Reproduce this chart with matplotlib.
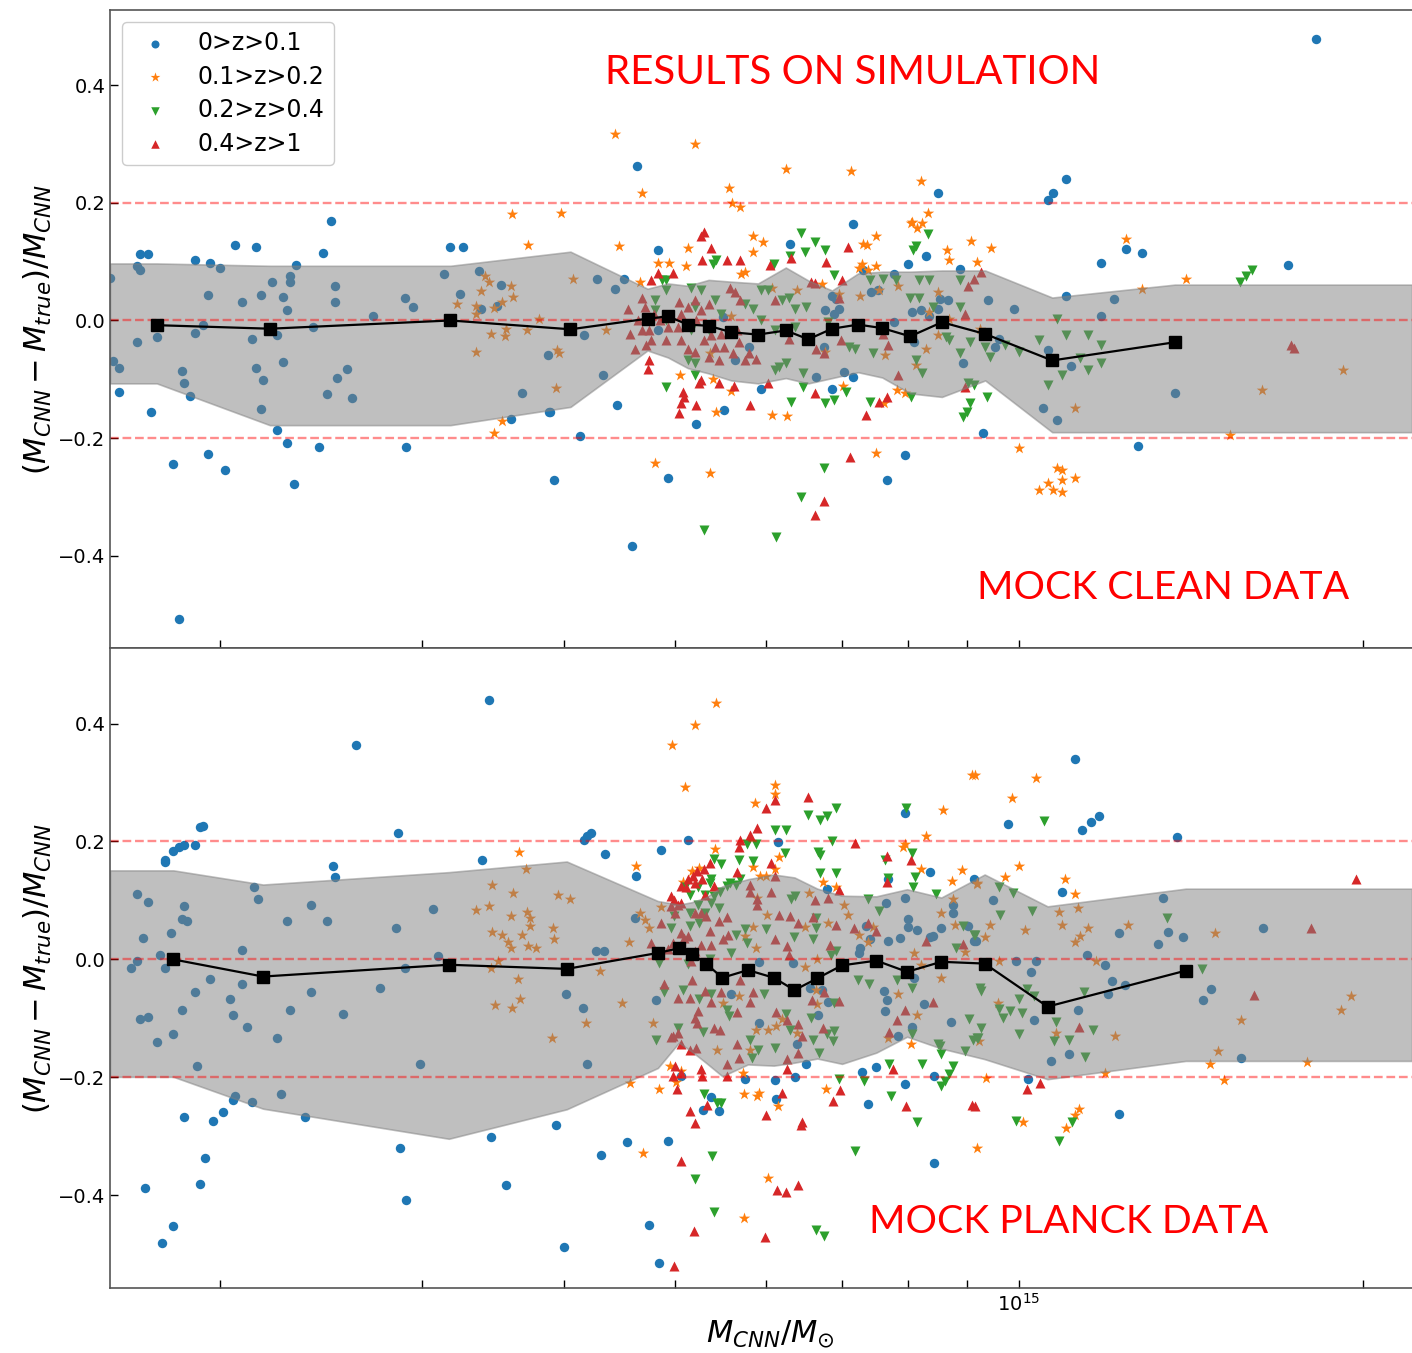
import numpy as np
import matplotlib
matplotlib.use('Agg')
import matplotlib.pyplot as plt
from matplotlib.ticker import NullFormatter

# masses in units of 1e14 Msun, y = (M_CNN - M_true)/M_CNN
top_blue = [(1.70,0.113),(1.73,0.113),(1.69,0.092),(1.70,0.085),(1.90,0.102),(1.96,0.097),(2.00,0.089),(2.33,0.095),(2.46,0.114),(1.60,0.073),(1.95,0.044),(2.17,0.044),(2.09,0.031),(2.22,0.066),(2.30,0.075),(2.30,0.065),(2.27,0.040),(2.29,0.018),(2.52,0.058),(2.52,0.031),(2.90,0.038),(2.95,0.023),(2.72,0.007),(3.14,0.079),(3.24,0.045),(3.37,0.084),(3.38,0.020),(3.49,0.025),(3.52,0.060),(1.93,-0.007),(1.90,-0.021),(1.76,-0.028),(1.69,-0.037),(2.41,-0.011),(2.24,-0.024),(2.13,-0.031),(1.61,-0.069),(1.63,-0.080),(2.27,-0.071),(1.85,-0.086),(1.86,-0.106),(2.15,-0.081),(2.18,-0.101),(2.58,-0.082),(2.53,-0.098),(2.48,-0.125),(2.61,-0.132),(2.17,-0.150),(1.88,-0.129),(3.87,-0.058),(3.67,-0.124),(3.59,-0.167),(3.88,-0.156),
            (1.63,-0.121),(1.74,-0.156),(2.24,-0.186),(2.29,-0.208),(2.44,-0.216),(2.91,-0.215),(1.82,-0.244),(1.95,-0.227),(2.02,-0.254),(1.84,-0.508),(2.32,-0.278),(3.92,-0.271),(4.13,-0.197),(4.58,-0.383),
            (2.06,0.129),(2.15,0.125),(2.50,0.169),(3.18,0.125),(3.26,0.125),(4.83,0.120),(6.30,0.130),(7.15,0.164),(7.99,0.096),(8.29,0.110),(4.45,-0.143),(5.52,-0.153),(5.95,-0.116),(6.86,-0.116),(3.89,-0.155),
            (4.27,0.071),(4.43,0.054),(4.51,0.071),(4.16,-0.024),(4.32,-0.092),(4.83,-0.017),(5.51,0.006),(5.80,-0.045),(5.64,-0.068),(6.64,-0.096),(6.76,0.017),(6.89,0.011),(6.96,0.020),(6.91,0.037),(6.86,0.042),(6.75,-0.045),(7.15,-0.096),(7.03,-0.088),(7.30,0.085),(7.42,0.048),(7.52,0.051),(7.77,0.079),(8.06,0.014),(8.20,0.017),(8.09,-0.037),(7.77,-0.003),(8.52,0.037),(8.66,0.034),(8.49,0.020),(8.34,0.008),(8.93,-0.073),(9.53,-0.045),(9.61,-0.031),(8.87,0.088),
            (18.2,0.478),(10.6,0.205),(10.7,0.217),(11.0,0.241),(12.4,0.122),(12.8,0.114),(11.8,0.098),(17.2,0.095),(13.7,-0.124),(12.7,-0.214),(9.9,0.020),(11.0,0.041),(12.1,0.037),(11.8,0.007),(10.6,-0.051),(11.1,-0.078),(10.5,-0.149),(10.8,-0.169),(9.4,0.034),
            (4.63,0.263),(8.5,0.217),(7.95,-0.229),(7.66,-0.271),(9.3,-0.192),(4.93,-0.268),(5.22,-0.176)]
top_orange = [(3.41,0.076),(3.44,0.066),(3.38,0.050),(3.35,0.024),(3.35,0.011),(3.22,0.028),(3.47,0.022),(3.53,0.032),(3.59,0.058),(3.61,0.040),(3.56,-0.014),(3.55,-0.026),(3.45,-0.023),(3.35,-0.054),(3.71,-0.017),(3.80,0.003),(3.53,-0.171),(3.47,-0.191),(3.6,0.181),(3.72,0.129),(3.97,0.183),
              (4.47,0.127),(4.83,0.098),(4.94,0.098),(5.13,0.124),(5.11,0.092),(5.85,0.143),(5.97,0.134),(5.85,0.116),(5.71,0.079),(5.76,0.083),(7.50,0.144),(7.30,0.130),(7.36,0.129),(8.06,0.167),(8.14,0.157),(8.22,0.165),(8.64,0.119),(8.68,0.102),(9.07,0.136),(9.19,0.100),(9.45,0.123),(7.29,0.096),(7.37,0.085),(7.24,0.090),(7.49,0.092),(5.05,-0.093),(5.40,-0.099),(5.43,-0.155),(6.26,-0.163),(5.60,-0.120),(7.02,-0.111),(7.61,-0.141),(7.82,-0.119),(7.94,-0.124),(3.93,-0.114),(4.66,0.065),
              (4.07,0.071),(4.35,-0.017),(3.94,-0.051),(3.96,-0.056),(5.37,-0.056),(5.60,0.008),(6.08,0.056),(6.39,0.051),(6.72,0.062),(6.96,0.045),(7.26,0.042),(7.54,0.051),(7.84,0.059),(8.34,0.014),(8.49,-0.025),(8.68,0.003),(9.24,-0.014),(8.29,-0.048),(7.64,-0.059),(6.76,-0.054),(8.12,-0.076),(8.49,0.048),
              (12.4,0.139),(14.0,0.071),(12.8,0.054),(16.3,-0.119),(15.3,-0.195),(19.2,-0.085),(10.9,-0.254),(10.8,-0.251),(10.6,-0.276),(10.9,-0.271),(10.4,-0.288),(10.7,-0.288),(11.2,-0.268),(10.9,-0.292),(10.0,-0.217),(11.2,-0.149),
              (4.43,0.317),(5.20,0.300),(4.68,0.217),(5.57,0.225),(5.61,0.200),(5.70,0.193),(6.25,0.258),(7.12,0.254),(8.2,0.237),(8.33,0.183),(8.04,0.166),(4.80,-0.242),(5.36,-0.259),(7.49,-0.225),(6.08,-0.161)]
top_green = [(6.44,0.148),(6.63,0.134),(6.50,0.117),(6.77,0.120),(6.89,0.078),(6.30,0.110),(8.33,0.147),(8.07,0.119),(8.13,0.127),(6.10,0.096),(5.40,0.096),(5.43,0.103),(4.91,0.068),(4.87,0.069),(4.91,-0.113),(5.20,-0.093),(6.47,-0.113),(6.76,-0.140),(6.89,-0.136),(7.05,-0.122),(6.31,-0.138),(7.41,-0.138),(9.06,-0.141),(9.0,-0.155),(8.93,-0.164),(8.04,-0.130),
             (4.91,0.051),(4.80,0.034),(4.80,0.017),(4.91,0.0),(5.16,0.056),(5.27,0.051),(5.20,0.023),(5.42,0.034),(5.49,0.011),(5.35,-0.017),(5.16,-0.017),(5.20,-0.073),(5.13,-0.068),(5.76,0.028),(5.85,0.020),(5.95,0.051),(6.03,0.051),(6.20,0.034),(6.29,0.039),(6.37,0.020),(6.51,0.023),(5.95,0.0),(6.11,-0.017),(6.37,-0.011),(6.16,-0.079),(6.25,-0.073),(6.47,-0.090),(6.11,-0.085),(7.10,-0.045),(7.19,-0.048),(7.41,0.068),(7.60,0.071),(7.80,0.068),(8.17,0.068),(8.34,0.068),(8.87,0.068),(8.03,0.039),(8.17,0.039),(8.40,0.023),(8.87,0.023),(8.63,-0.028),(8.68,-0.034),(8.87,-0.056),(9.05,-0.037),(9.34,-0.045),(9.43,-0.062),(8.12,-0.068),(8.23,-0.090),(9.02,-0.107),(9.14,-0.110),(9.37,-0.130),(7.45,-0.056),(6.81,-0.003),
             (9.72,-0.042),(10.0,-0.054),(10.4,-0.034),(10.8,0.003),(11.0,-0.025),(11.5,-0.025),(11.8,-0.042),(11.8,-0.073),(11.3,-0.064),(11.5,-0.085),(10.9,-0.093),(10.6,-0.110),
             (15.6,0.066),(15.8,0.075),(16.0,0.085),(5.30,-0.356),(6.13,-0.368),(6.45,-0.300),(6.75,-0.251)]
top_red = [(5.30,0.150),(5.27,0.144),(5.38,0.124),(5.28,0.103),(5.55,0.102),(5.70,0.103),(6.06,0.094),(6.32,0.106),(6.78,0.099),(7.09,0.125),(6.58,0.066),(6.63,0.063),(7.0,0.069),(4.83,0.080),(4.76,0.069),(4.98,0.080),(4.74,-0.068),(4.73,-0.082),(5.08,-0.121),(5.09,-0.130),(5.06,-0.141),(5.22,-0.144),(5.04,-0.158),(5.25,-0.107),(5.27,-0.102),(5.46,-0.107),(5.63,-0.111),(5.81,-0.143),(6.03,-0.106),(6.63,-0.124),(7.34,-0.160),(7.54,-0.138),(7.66,-0.130),(8.96,-0.113),
           (4.55,0.020),(4.68,0.039),(4.71,0.023),(4.74,0.0),(4.74,-0.017),(4.76,-0.034),(4.72,-0.042),(4.93,-0.011),(4.91,-0.034),(5.04,0.031),(5.06,0.011),(5.13,0.023),(5.20,0.034),(5.27,0.017),(5.35,0.028),(5.06,-0.034),(5.13,-0.048),(5.30,-0.034),(5.38,-0.025),(5.42,-0.045),(5.35,-0.062),(5.52,-0.045),(5.62,-0.056),(5.69,-0.037),(5.80,-0.056),(5.88,-0.065),(5.67,-0.017),(5.49,-0.023),(5.58,0.056),(5.64,0.048),(5.70,0.034),(6.11,0.034),(6.29,-0.031),(6.64,-0.048),(6.75,-0.056),(6.96,0.039),(6.98,-0.034),(7.60,-0.023),(7.68,-0.042),(7.84,-0.093),(9.02,0.059),(9.14,0.071),(9.26,0.082),(8.96,0.011),
           (4.64,0.0),(4.68,-0.017),(4.85,0.0),(4.79,0.011),(4.57,-0.023),(4.61,-0.048),(5.03,-0.011),(5.22,0.0),(5.20,-0.054),(5.46,-0.068),(5.76,-0.068),
           (17.3,-0.042),(17.4,-0.047),(6.63,-0.331),(6.75,-0.307),(7.11,-0.232)]

bot_blue = [(3.44,0.439),(2.63,0.363),(1.93,0.226),(1.92,0.224),(2.86,0.215),(1.79,0.165),(1.79,0.168),(1.82,0.184),(1.84,0.191),(1.86,0.194),(1.90,0.194),(2.51,0.159),(2.52,0.140),(3.39,0.169),
            (1.69,0.111),(1.73,0.098),(1.86,0.090),(1.85,0.068),(1.87,0.065),(1.71,0.036),(1.81,0.045),(1.77,0.008),(1.69,-0.003),(1.67,-0.015),(1.79,-0.015),(2.14,0.123),(2.16,0.103),(2.09,0.016),(2.29,0.066),(2.40,0.092),(2.48,0.066),(2.85,0.053),(3.07,0.086),(3.10,0.005),(2.90,-0.014),
            (1.96,-0.033),(1.90,-0.056),(2.09,-0.041),(2.04,-0.067),(2.05,-0.094),(1.85,-0.086),(1.70,-0.101),(1.73,-0.098),(1.82,-0.127),(1.76,-0.140),(1.91,-0.181),(2.11,-0.114),(2.24,-0.133),(2.30,-0.085),(2.40,-0.056),(2.56,-0.093),(2.76,-0.049),(2.99,-0.177),(2.06,-0.231),(2.13,-0.242),(2.26,-0.228),
            (2.05,-0.239),(2.01,-0.259),(1.86,-0.267),(1.97,-0.274),(2.37,-0.267),(1.94,-0.337),(1.92,-0.380),(1.72,-0.387),(1.82,-0.452),(1.78,-0.480),(2.87,-0.320),(2.91,-0.408),(3.45,-0.301),(3.56,-0.382),
            (4.16,0.203),(4.19,0.210),(4.22,0.215),(4.34,0.178),(4.62,0.141),(4.86,0.186),(5.13,0.203),(6.15,0.199),(7.95,0.249),(8.35,0.149),(6.79,0.120),(7.68,0.136),
            (4.26,0.014),(4.33,0.015),(4.61,0.071),(7.65,0.096),(7.94,0.105),(7.99,0.068),(8.00,0.055),(8.14,0.050),(7.68,0.031),(7.86,0.036),(8.35,0.038),(8.41,0.040),(8.54,0.054),(8.75,0.093),(8.75,0.079),(9.02,0.056),(9.13,0.031),(9.14,0.136),(7.35,0.056),(7.41,0.035),(7.26,0.019),(7.25,0.011),(6.34,-0.006),(5.92,-0.005),
            (3.93,-0.280),(4.31,-0.331),(4.54,-0.309),(4.93,-0.307),(4.74,-0.451),(4.00,-0.488),(4.84,-0.515),(5.06,-0.197),(5.38,-0.234),(5.29,-0.256),(5.46,-0.257),(5.76,-0.203),(6.12,-0.205),(6.13,-0.237),(6.37,-0.199),(6.51,-0.177),(7.28,-0.190),(7.50,-0.182),(7.38,-0.245),(7.95,-0.212),(8.43,-0.197),(8.43,-0.345),
            (4.01,-0.059),(4.15,-0.082),(4.19,-0.178),(4.81,-0.068),(5.60,-0.059),(5.92,-0.108),(6.39,-0.143),(6.56,-0.048),(6.67,-0.095),(6.72,-0.051),(6.81,-0.072),(7.61,-0.054),(7.66,-0.068),(7.64,-0.088),(8.06,-0.115),(7.84,-0.129),(8.25,-0.076),(8.72,-0.106),(8.09,-0.031),
            (11.19,0.340),(9.78,0.229),(11.36,0.219),(11.56,0.233),(11.74,0.244),(13.75,0.207),(10.91,0.114),
            (9.49,0.101),(13.37,0.105),(13.49,0.047),(13.92,0.038),(13.22,0.026),(12.24,0.045),(16.34,0.054),(11.46,0.007),(10.34,-0.003),(9.93,-0.003),(11.9,-0.009),(9.17,0.031),
            (10.24,-0.021),(12.07,-0.036),(12.39,-0.044),(11.95,-0.058),(11.27,-0.086),(10.31,-0.103),(10.66,-0.172),(11.05,-0.161),(14.48,-0.068),(14.72,-0.050),(15.64,-0.167),(10.18,-0.202),(12.23,-0.262)]
bot_orange = [(3.65,0.183),(3.70,0.154),(3.46,0.127),(3.61,0.112),(3.44,0.090),(3.35,0.083),(3.59,0.074),(3.71,0.081),(3.73,0.070),(3.73,0.056),(3.46,0.047),(3.53,0.041),(3.67,0.041),(3.57,0.029),(3.59,0.019),(3.72,0.023),(3.78,0.020),(3.50,-0.002),(3.45,-0.014),(3.64,-0.033),(3.66,-0.067),(3.48,-0.078),(3.60,-0.082),
              (5.43,0.434),(5.21,0.398),(4.97,0.364),(5.10,0.293),(5.87,0.266),(6.12,0.295),(6.12,0.281),(5.42,0.188),(4.62,0.158),(5.17,0.150),(5.25,0.155),(5.08,0.132),(5.85,0.156),(6.11,0.154),(6.17,0.174),(5.93,0.142),(6.01,0.142),(9.10,0.313),(8.58,0.254),(8.29,0.209),(7.92,0.191),(7.94,0.196),(8.20,0.154),(8.91,0.151),(8.74,0.133),(6.74,0.132),(6.91,0.122),
              (3.95,0.109),(4.05,0.103),(3.91,0.054),(3.92,0.034),(4.56,0.030),(4.66,0.079),(4.71,0.067),(4.74,0.054),(4.86,0.089),(5.90,0.105),(6.02,0.075),(5.85,0.055),(5.76,0.040),(5.88,0.020),(6.55,0.113),(6.50,0.055),(6.81,0.061),(7.03,0.093),(7.09,0.075),(7.25,0.042),(7.38,0.029),(7.45,0.055),(8.09,0.011),(8.55,0.079),(8.78,0.058),(8.76,0.102),(8.96,0.012),(9.18,0.130),(6.66,0.0),
              (4.57,-0.209),(4.84,-0.219),(5.01,-0.208),(4.95,-0.180),(5.06,-0.189),(5.74,-0.228),(5.73,-0.192),(5.90,-0.232),(5.92,-0.227),(6.15,-0.249),(4.69,-0.328),(6.03,-0.371),(5.75,-0.438),(6.78,-0.219),(8.04,-0.144),(9.18,-0.320),
              (3.90,-0.133),(4.18,-0.107),(4.30,-0.020),(4.49,-0.073),(4.78,-0.108),(5.51,-0.073),(5.69,-0.062),(5.88,-0.119),(6.03,-0.120),(6.13,-0.113),(6.20,-0.101),(6.39,-0.125),(6.64,-0.051),(6.66,-0.076),(5.82,-0.154),(5.44,-0.154),(6.50,-0.012),(7.84,-0.058),(8.14,-0.094),(7.68,-0.133),(8.54,-0.031),(8.20,-0.010),
              (9.15,0.313),(10.34,0.307),(9.86,0.273),(10.0,0.159),(9.72,0.140),(10.97,0.137),(11.19,0.111),
              (9.19,0.128),(9.43,0.059),(9.34,0.038),(10.12,0.050),(10.84,0.081),(11.25,0.088),(10.91,0.059),(11.48,0.054),(11.31,0.040),(11.20,0.030),(12.45,0.058),(14.85,0.044),(9.60,-0.003),(11.68,-0.003),
              (9.58,-0.073),(9.23,-0.138),(10.78,-0.125),(12.13,-0.129),(14.94,-0.156),(15.64,-0.103),(19.13,-0.085),(19.5,-0.062),
              (9.36,-0.201),(11.90,-0.193),(14.69,-0.177),(15.10,-0.205),(17.86,-0.174),(10.07,-0.276),(11.0,-0.285),(11.19,-0.263),(11.28,-0.254)]
bot_green = [(6.54,0.245),(6.70,0.236),(6.79,0.244),(6.92,0.256),(6.11,0.219),(6.25,0.219),(7.97,0.257),(6.86,0.200),(5.78,0.195),(5.88,0.195),(6.24,0.181),(5.41,0.171),(5.48,0.162),(5.69,0.168),(5.85,0.167),(6.67,0.182),(6.69,0.177),(6.69,0.147),(6.92,0.147),(8.06,0.181),(7.64,0.168),(8.10,0.140),(7.68,0.138),(8.08,0.123),(8.46,0.111),(5.59,0.130),(5.55,0.125),(5.65,0.127),(5.70,0.136),(5.38,0.136),(5.36,0.130),(5.24,0.122),(5.47,0.115),(5.41,0.107),(5.31,0.110),(5.10,0.123),(5.15,0.110),
             (5.24,0.093),(5.31,0.079),(5.38,0.096),(5.46,0.088),(5.15,0.079),(5.15,0.056),(5.25,0.061),(4.96,0.053),(4.99,0.073),(5.76,0.052),(5.65,0.042),(6.01,0.052),(6.35,0.038),(6.60,0.034),(6.64,0.054),(6.64,0.071),(6.37,0.107),(6.32,0.102),(7.54,0.082),(7.38,0.102),(8.93,0.056),(9.13,0.041),(8.81,0.019),(6.92,0.014),(6.85,0.008),(5.78,0.028),(5.60,0.011),(4.84,-0.006),(5.13,-0.008),(5.37,0.0),
             (5.30,-0.228),(5.44,-0.243),(5.48,-0.243),(5.39,-0.334),(5.21,-0.373),(5.41,-0.429),(6.64,-0.459),(6.75,-0.468),(7.19,-0.325),(6.96,-0.203),(7.32,-0.206),(7.70,-0.178),(7.73,-0.232),(8.14,-0.276),(8.23,-0.178),(8.55,-0.215),(8.61,-0.206),(8.68,-0.195),(8.75,-0.180),(8.55,-0.160),(8.50,-0.144),
             (4.81,-0.137),(5.03,-0.116),(4.89,-0.056),(5.08,-0.052),(5.25,-0.067),(5.38,-0.059),(5.29,-0.123),(5.55,-0.085),(5.57,-0.096),(5.81,-0.137),(5.91,-0.153),(5.84,-0.167),(5.98,-0.058),(6.12,-0.150),(6.25,-0.093),(6.30,-0.119),(6.60,-0.137),(6.68,-0.158),(6.79,-0.127),(6.89,-0.122),(6.87,-0.138),(6.89,-0.073),(6.57,-0.099),(7.23,-0.034),(7.39,-0.042),(7.82,-0.035),(8.06,-0.048),(8.06,-0.127),(8.52,-0.146),(9.04,-0.101),(8.97,-0.155),(9.11,-0.136),(9.21,-0.133),(9.24,-0.048),
             (10.52,0.235),(9.61,0.123),(9.87,0.112),(9.62,0.076),(10.26,0.082),(13.47,0.070),(9.15,0.042),
             (9.26,-0.054),(9.61,-0.084),(9.69,-0.099),(9.82,-0.088),(10.05,-0.090),(10.0,-0.067),(10.17,-0.050),(10.31,-0.062),(9.26,-0.117),(9.18,-0.134),(9.99,-0.127),(10.77,-0.106),(10.72,-0.138),(11.05,-0.136),(11.60,-0.119),(11.42,-0.165),(11.39,-0.056),(14.47,-0.016),
             (9.94,-0.274),(11.12,-0.275),(10.84,-0.308)]
bot_red = [(6.53,0.276),(6.12,0.270),(6.01,0.256),(5.90,0.223),(5.81,0.211),(5.70,0.203),(5.69,0.190),(6.07,0.164),(5.67,0.149),(7.18,0.198),(7.66,0.175),(8.05,0.169),(7.67,0.132),(6.95,0.117),(5.36,0.164),(5.30,0.153),(5.23,0.150),(5.18,0.141),(5.13,0.137),(5.20,0.130),(5.06,0.124),(4.96,0.108),(5.11,0.123),(5.28,0.136),(4.99,0.101),(5.31,0.110),(5.41,0.124),
           (5.81,0.127),(5.81,0.114),(5.90,0.102),(5.90,0.093),(6.11,0.141),(6.07,0.115),(6.17,0.076),(6.30,0.073),(6.41,0.062),(5.55,0.072),(5.46,0.065),(5.37,0.049),(5.56,0.041),(5.51,0.034),(5.38,0.025),(5.27,0.024),(5.20,0.014),(5.06,0.045),(5.09,0.036),(5.13,0.040),(4.98,0.028),(4.86,0.062),(4.76,0.028),(5.00,0.079),(4.96,0.090),(5.03,0.093),(5.06,0.096),(5.21,0.079),(5.32,0.073),(5.27,0.079),(6.11,0.034),(6.26,0.023),(6.29,0.008),(6.60,0.072),(6.63,0.101),(6.80,0.105),(6.92,0.059),(6.83,0.025),(7.17,0.054),(7.38,0.062),(7.49,0.048),(8.29,0.032),(8.94,0.026),(4.93,0.017),(5.16,-0.003),
           (5.00,-0.180),(4.98,-0.198),(5.02,-0.219),(5.06,-0.192),(5.27,-0.185),(5.28,-0.197),(5.06,-0.144),(5.15,-0.154),(5.15,-0.257),(5.20,-0.278),(5.33,-0.247),(5.06,-0.341),(5.55,-0.198),(6.26,-0.186),(6.20,-0.226),(6.00,-0.264),(6.46,-0.275),(6.45,-0.280),(6.14,-0.391),(6.25,-0.395),(6.41,-0.382),(5.19,-0.460),(5.99,-0.471),(4.99,-0.519),(6.97,-0.222),(6.87,-0.240),(7.75,-0.185),(7.97,-0.249),(9.10,-0.246),
           (4.89,-0.041),(5.03,-0.065),(5.15,-0.065),(5.17,-0.034),(5.31,-0.054),(5.38,-0.072),(5.49,-0.055),(5.67,-0.089),(5.85,-0.055),(5.82,-0.072),(5.70,-0.035),(5.24,-0.088),(5.20,-0.099),(5.23,-0.107),(5.41,-0.116),(5.47,-0.120),(5.03,-0.124),(4.96,-0.131),(5.22,-0.150),(5.67,-0.144),(5.69,-0.167),(5.55,-0.178),(6.13,-0.089),(6.27,-0.103),(6.41,-0.109),(6.46,-0.130),(6.27,-0.168),(6.41,-0.158),(6.59,-0.069),(6.75,-0.056),(6.74,-0.117),(6.95,-0.071),(7.94,-0.086),(7.82,-0.102),(8.40,-0.072),(7.70,-0.123),(4.98,-0.130),
           (19.7,0.136),(17.99,0.054),(11.29,-0.114),(16.05,-0.061),(10.16,-0.220),(10.44,-0.209),(9.15,-0.249)]

# binned medians and spread band
top_med_x = [1.76,2.21,3.18,4.05,4.73,4.93,5.13,5.35,5.60,5.91,6.25,6.54,6.86,7.23,7.59,8.03,8.56,9.34,10.69,13.69]
top_med_y = [-0.008,-0.014,0.0,-0.015,0.003,0.007,-0.007,-0.009,-0.020,-0.024,-0.017,-0.032,-0.014,-0.007,-0.013,-0.027,-0.003,-0.023,-0.068,-0.037]
top_hi = [0.097,0.093,0.093,0.117,0.054,0.063,0.059,0.069,0.066,0.063,0.090,0.068,0.051,0.080,0.083,0.083,0.085,0.085,0.039,0.061]
top_lo = [-0.107,-0.178,-0.178,-0.147,-0.051,-0.063,-0.081,-0.090,-0.102,-0.107,-0.098,-0.107,-0.098,-0.088,-0.097,-0.124,-0.130,-0.102,-0.190,-0.190]

bot_med_x = [1.82,2.18,3.17,4.02,4.83,5.04,5.17,5.32,5.50,5.79,6.10,6.36,6.66,7.00,7.50,7.98,8.55,9.33,10.59,13.99]
bot_med_y = [0.0,-0.029,-0.009,-0.016,0.011,0.019,0.010,-0.007,-0.031,-0.018,-0.031,-0.052,-0.032,-0.010,-0.002,-0.021,-0.004,-0.007,-0.080,-0.019]
bot_hi = [0.151,0.127,0.148,0.166,0.099,0.093,0.097,0.105,0.124,0.136,0.144,0.139,0.120,0.108,0.107,0.119,0.105,0.144,0.090,0.120]
bot_lo = [-0.199,-0.253,-0.304,-0.254,-0.184,-0.141,-0.156,-0.175,-0.198,-0.178,-0.180,-0.175,-0.168,-0.177,-0.158,-0.131,-0.151,-0.169,-0.203,-0.172]

labels = ['0>z>0.1', '0.1>z>0.2', '0.2>z>0.4', '0.4>z>1']
colors = ['tab:blue', 'tab:orange', 'tab:green', 'tab:red']
markers = ['o', '*', 'v', '^']
sizes = [46, 75, 52, 52]

XMIN, XMAX = 1.6015e14, 2.207e15
YMIN, YMAX = -0.557, 0.528

fig = plt.figure(figsize=(14.12, 13.53), dpi=100)
W, H = 1412., 1353.
ax1 = fig.add_axes([110/W, 1-648/H, 1-110/W, 638/H])
ax2 = fig.add_axes([110/W, 1-1288/H, 1-110/W, 640/H], sharex=ax1, sharey=ax1)


def panel(ax, groups, mx, my, hi, lo):
    for pts, c, m, sz, lab in zip(groups, colors, markers, sizes, labels):
        pts = np.array(pts)
        ax.scatter(pts[:, 0]*1e14, pts[:, 1], c=c, marker=m, s=sz, linewidths=0, label=lab)
    bx = np.array([XMIN/1e14] + mx + [XMAX/1e14])*1e14
    bh = [hi[0]] + hi + [hi[-1]]
    bl = [lo[0]] + lo + [lo[-1]]
    ax.fill_between(bx, bl, bh, facecolor='gray', edgecolor='gray', alpha=0.5, lw=1.2)
    for yy in (-0.2, 0.0, 0.2):
        ax.axhline(yy, color='red', alpha=0.45, ls='--', lw=1.7)
    ax.plot(np.array(mx)*1e14, my, color='black', marker='s', ms=8, lw=1.6)
    ax.set_xscale('log')
    ax.set_xlim(XMIN, XMAX)
    ax.set_ylim(YMIN, YMAX)
    ax.set_yticks([-0.4, -0.2, 0.0, 0.2, 0.4])
    ax.tick_params(which='both', direction='in', length=6, width=1, labelsize=14)
    ax.spines['right'].set_visible(False)
    for s in ('left', 'top', 'bottom'):
        ax.spines[s].set_color('#555555')
        ax.spines[s].set_linewidth(1.2)
    ax.set_ylabel(r'$(M_{CNN}-M_{true})/M_{CNN}$', fontsize=22)
    ax.xaxis.set_minor_formatter(NullFormatter())


panel(ax1, [top_blue, top_orange, top_green, top_red], top_med_x, top_med_y, top_hi, top_lo)
panel(ax2, [bot_blue, bot_orange, bot_green, bot_red], bot_med_x, bot_med_y, bot_hi, bot_lo)
plt.setp(ax1.get_xticklabels(), visible=False)
ax2.set_xlabel(r'$M_{CNN}/M_{\odot}$', fontsize=22)
ax2.xaxis.set_label_coords(0.507, -0.048)
ax1.yaxis.set_label_coords(-0.043, 0.5)
ax2.yaxis.set_label_coords(-0.043, 0.5)

ax1.legend(loc='upper left', fontsize=17, markerscale=0.85, labelspacing=0.4, framealpha=1.0)

fig.text(853/W, 1-73/H, 'RESULTS ON SIMULATION', color='red', fontsize=29, family='Lato', ha='center', va='center')
fig.text(1163/W, 1-588/H, 'MOCK CLEAN DATA', color='red', fontsize=28.3, family='Lato', ha='center', va='center')
fig.text(1069/W, 1-1222/H, 'MOCK PLANCK DATA', color='red', fontsize=28.3, family='Lato', ha='center', va='center')

fig.savefig('out.png', dpi=100)
